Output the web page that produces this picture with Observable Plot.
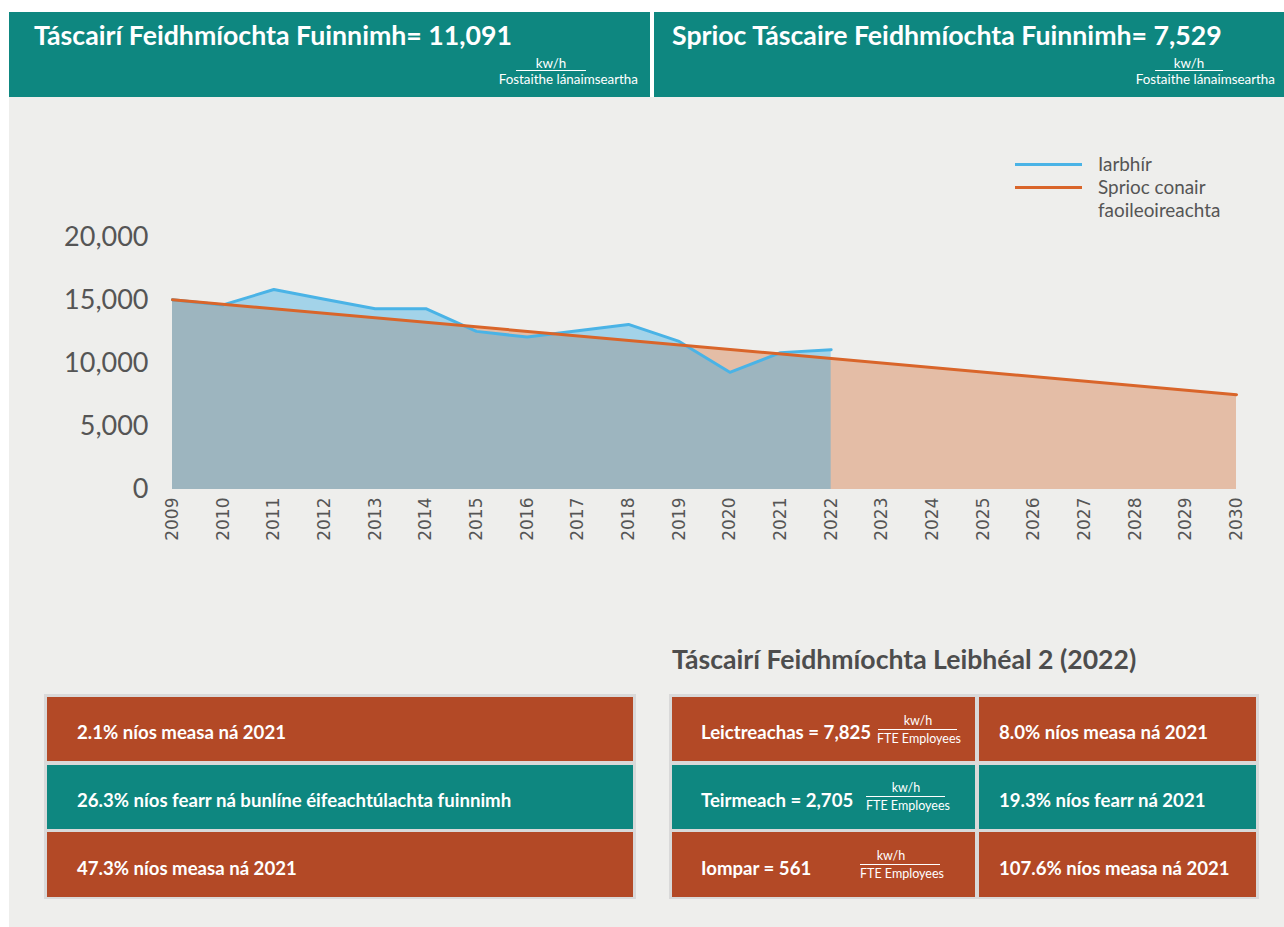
<!DOCTYPE html>
<html>
<head>
<meta charset="utf-8">
<script src="https://cdn.jsdelivr.net/npm/d3@7"></script>
<script src="https://cdn.jsdelivr.net/npm/@observablehq/plot@0.6"></script>
<style>
  html, body { margin: 0; padding: 0; background: #ffffff; }
  body { width: 1284px; height: 927px; position: relative; overflow: hidden; font-family: Lato, "Noto Sans", sans-serif; }
  .abs { position: absolute; }
  .hdr { background: #0e8780; top: 12px; height: 85px; }
  .htitle { color: #fff; font-weight: 700; font-size: 26.7px; white-space: nowrap; }
  .small { color: #fff; font-size: 13.4px; white-space: nowrap; line-height: 1; }
  .bsmall { color: #fff; font-size: 12.5px; white-space: nowrap; line-height: 1; }
  .fline { height: 1px; background: #fff; }
  .gray { background: #eeeeec; }
  .row { position: absolute; color: #fff; font-weight: 700; font-size: 18.6px; display: flex; align-items: center; white-space: nowrap; box-sizing: border-box; padding-top: 6px; }
  .red { background: #b34926; }
  .teal { background: #0e8780; }
  .leg { color: #555; font-size: 18.9px; line-height: 22.5px; white-space: nowrap; }
</style>
</head>
<body>
<div id="root"></div>
<script>
// ---- data ----
const years = [2009, 2010, 2011, 2012, 2013, 2014, 2015, 2016, 2017, 2018, 2019, 2020, 2021, 2022];
const actual = [15058, 14650, 15870, 15100, 14350, 14350, 12550, 12100, 12600, 13100, 11750, 9300, 10863, 11091];
const targetYears = [2009, 2030];
const targetValues = [15058, 7529];
const xTickYears = [2009, 2010, 2011, 2012, 2013, 2014, 2015, 2016, 2017, 2018, 2019, 2020, 2021, 2022, 2023, 2024, 2025, 2026, 2027, 2028, 2029, 2030];
const yTicks = [0, 5000, 10000, 15000, 20000];
const legendLabels = ["Iarbhír", "Sprioc conair faoileoireachta"];
const headerTitles = ["Táscairí Feidhmíochta Fuinnimh= 11,091", "Sprioc Táscaire Feidhmíochta Fuinnimh= 7,529"];
const headerUnitTop = "kw/h";
const headerUnitBottom = "Fostaithe lánaimseartha";
const leftRows = ["2.1% níos measa ná 2021", "26.3% níos fearr ná bunlíne éifeachtúlachta fuinnimh", "47.3% níos measa ná 2021"];
const leftRowColors = ["red", "teal", "red"];
const level2Title = "Táscairí Feidhmíochta Leibhéal 2 (2022)";
const level2Names = ["Leictreachas = 7,825", "Teirmeach = 2,705", "Iompar = 561"];
const level2Changes = ["8.0% níos measa ná 2021", "19.3% níos fearr ná 2021", "107.6% níos measa ná 2021"];
const level2Colors = ["red", "teal", "red"];
const boxUnitTop = "kw/h";
const boxUnitBottom = "FTE Employees";

const actualData = years.map((y, i) => ({year: y, value: actual[i]}));
const targetData = targetYears.map((y, i) => ({year: y, value: targetValues[i]}));

const body = document.body;
function el(cls, style, text) {
  const d = document.createElement("div");
  d.className = cls;
  Object.assign(d.style, style);
  if (text != null) d.textContent = text;
  body.appendChild(d);
  return d;
}

// gray background
el("abs gray", {left: "9px", top: "97px", width: "1275px", height: "830px"});

// header panels
el("abs hdr", {left: "9px", width: "641px"});
el("abs hdr", {left: "654px", width: "630px"});
el("abs htitle", {left: "34px", top: "19px"}, headerTitles[0]);
el("abs htitle", {left: "672px", top: "19px"}, headerTitles[1]);
// header fractions
function hdrFrac(topCenterX, lineL, lineR, bottomRight) {
  el("abs small", {top: "57px", left: (topCenterX - 40) + "px", width: "80px", textAlign: "center"}, headerUnitTop);
  el("abs fline", {top: "70px", left: lineL + "px", width: (lineR - lineL) + "px"});
  el("abs small", {top: "73px", right: (1284 - bottomRight) + "px", textAlign: "right"}, headerUnitBottom);
}
hdrFrac(551, 516, 586, 638);
hdrFrac(1189, 1155, 1223, 1275);

// legend
el("abs", {left: "1015px", top: "163px", width: "67px", height: "3px", background: "#4ab3e6"});
el("abs", {left: "1015px", top: "186px", width: "67px", height: "3px", background: "#d9652a"});
el("abs leg", {left: "1098px", top: "153px"}, legendLabels[0]);
el("abs leg", {left: "1098px", top: "176px", width: "140px", whiteSpace: "normal"}, legendLabels[1]);

// chart
const chart = Plot.plot({
  width: 1275,
  height: 520,
  marginLeft: 163,
  marginRight: 48,
  marginTop: 140,
  marginBottom: 128,
  style: {background: "transparent", color: "#555", fontFamily: "Lato"},
  x: {domain: [2009, 2030]},
  y: {domain: [0, 20000]},
  marks: [
    Plot.areaY(targetData, {x: "year", y: "value", fill: "#e4bda6"}),
    Plot.areaY(actualData, {x: "year", y: "value", fill: "#33aae7", fillOpacity: 0.4}),
    Plot.lineY(actualData, {x: "year", y: "value", stroke: "#4ab3e6", strokeWidth: 3}),
    Plot.lineY(targetData, {x: "year", y: "value", stroke: "#d9652a", strokeWidth: 3}),
    Plot.axisX({ticks: xTickYears, tickFormat: d => String(d), tickRotate: -90, tickSize: 0, tickPadding: 8, fontSize: 17, fontFamily: "DejaVu Sans", label: null}),
    Plot.axisY({ticks: yTicks, tickFormat: d3.format(","), tickSize: 0, tickPadding: 24, fontSize: 27, fontFamily: "Lato", label: null})
  ]
});
chart.style.position = "absolute";
chart.style.left = "9px";
chart.style.top = "97px";
body.appendChild(chart);

// bottom title
el("abs", {left: "672px", top: "643px", color: "#4d4d4d", fontWeight: 700, fontSize: "26.6px", whiteSpace: "nowrap"}, level2Title);

// left box group
el("abs", {left: "44px", top: "694px", width: "592px", height: "205px", background: "#d9d9d9"});
const rowTops = [697, 765, 832];
const rowH = [64, 64, 65];
leftRows.forEach((t, i) => {
  el("row " + leftRowColors[i], {left: "47px", top: rowTops[i] + "px", width: "586px", height: rowH[i] + "px", paddingLeft: "30px"}, t);
});

// right box group
el("abs", {left: "669px", top: "694px", width: "590px", height: "205px", background: "#d9d9d9"});
const fracPos = [
  {top: 715, lineL: 878, lineR: 957, cx: 918, bl: 877},
  {top: 782, lineL: 866, lineR: 945, cx: 906, bl: 866},
  {top: 850, lineL: 860, lineR: 940, cx: 891, bl: 860}
];
level2Names.forEach((t, i) => {
  el("row " + level2Colors[i], {left: "672px", top: rowTops[i] + "px", width: "303px", height: rowH[i] + "px", paddingLeft: "29px"}, t);
  el("row " + level2Colors[i], {left: "979px", top: rowTops[i] + "px", width: "277px", height: rowH[i] + "px", paddingLeft: "20px"}, level2Changes[i]);
  const f = fracPos[i];
  el("abs bsmall", {top: f.top + "px", left: (f.cx - 30) + "px", width: "60px", textAlign: "center"}, boxUnitTop);
  el("abs fline", {top: (f.top + 14) + "px", left: f.lineL + "px", width: (f.lineR - f.lineL) + "px"});
  el("abs bsmall", {top: (f.top + 18) + "px", left: f.bl + "px"}, boxUnitBottom);
});
</script>
</body>
</html>
